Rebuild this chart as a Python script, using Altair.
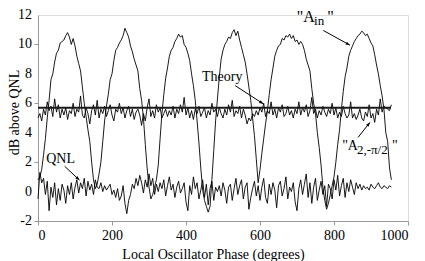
import math
import altair as alt
import pandas as pd

# ---------------- data ----------------
STEP = 5  # degrees between samples

a_in = [
    0.8, 1.0, 1.5, 2.5, 3.6, 5.0, 6.2, 7.6, 8.0, 8.8, 9.4, 9.6, 10.1, 10.2, 10.3, 10.6, 10.8, 10.5, 10.0, 10.4,
    9.9, 9.2, 8.7, 8.2, 7.1, 6.0, 5.1, 4.2, 3.4, 2.0, 0.8, 0.2, 0.5, 1.2, 2.0, 3.4, 4.8, 5.8, 6.6, 7.6,
    8.0, 8.9, 9.6, 9.8, 10.1, 10.3, 10.6, 11.1, 10.8, 10.5, 9.9, 9.5, 9.0, 8.6, 8.2, 7.0, 6.2, 5.0, 3.2, 1.6,
    0.3, -0.5, -0.2, 0.3, 0.8, 1.8, 3.6, 5.3, 6.6, 7.7, 8.4, 9.2, 9.6, 9.8, 10.2, 10.4, 10.7, 10.5, 10.6, 10.0,
    9.8, 9.4, 8.9, 8.0, 7.2, 6.2, 4.8, 3.3, 1.6, 0.1, -0.6, -1.0, -1.4, -1.0, 0.8, 2.8, 4.8, 6.3, 7.8, 9.0,
    9.6, 10.0, 10.2, 10.5, 10.4, 10.8, 11.0, 10.6, 10.9, 10.3, 9.8, 9.3, 8.8, 8.0, 7.1, 6.2, 5.0, 3.8, 2.2, 0.6,
    1.5, 2.6, 3.6, 4.6, 5.5, 6.6, 7.6, 8.4, 9.2, 9.6, 9.9, 10.0, 10.4, 10.3, 10.6, 10.5, 10.7, 10.4, 10.6, 10.2,
    10.3, 10.0, 10.2, 10.0, 9.6, 9.0, 8.6, 8.2, 7.0, 6.0, 5.3, 4.0, 3.0, 1.8, 0.3, -0.6, -1.2, -0.8, -0.2, 0.4,
    1.0, 2.0, 3.2, 4.2, 5.6, 6.8, 7.8, 8.4, 9.2, 9.6, 9.9, 10.2, 10.4, 10.6, 10.7, 10.9, 10.8, 10.6, 10.7, 10.4,
    10.1, 9.9, 9.3, 8.6, 8.0, 7.2, 6.5, 5.6, 4.0, 3.4, 1.6, 0.8,
]

a2 = [
    5.0, 5.3, 4.8, 5.6, 5.2, 6.1, 5.5, 5.8, 5.1, 6.3, 5.4, 5.9, 5.0, 5.6, 5.2, 5.7, 4.9, 5.5, 5.3, 6.0,
    5.1, 5.6, 5.4, 6.5, 5.2, 5.0, 5.7, 5.3, 4.6, 5.5, 5.9, 5.2, 6.2, 5.0, 5.6, 5.3, 5.8, 5.1, 5.5, 5.9,
    5.2, 4.8, 5.6, 5.4, 6.0, 5.3, 5.7, 5.0, 5.5, 5.8, 5.1, 5.6, 4.9, 5.4, 5.6, 5.2, 4.5, 5.3, 4.8, 5.7,
    6.3, 5.1, 5.5, 5.0, 5.9, 5.4, 5.7, 5.0, 5.3, 5.6, 5.1, 5.5, 5.2, 5.8, 5.0, 5.6, 5.3, 5.9, 5.4, 6.4,
    5.2, 5.7, 5.0, 5.5, 4.9, 5.6, 5.3, 5.8, 5.1, 5.4, 5.7, 5.0, 5.5, 5.2, 6.0, 5.4, 5.6, 5.1, 5.7, 5.3,
    5.0, 5.6, 5.2, 5.9, 5.4, 6.2, 5.1, 5.5, 5.3, 5.8, 5.0, 5.6, 5.2, 4.6, 5.0, 4.8, 5.3, 5.1, 5.5, 5.2,
    5.7, 5.4, 6.0, 5.1, 5.5, 5.3, 6.1, 5.2, 5.6, 5.0, 5.7, 5.4, 5.9, 5.1, 5.3, 5.8, 5.2, 5.5, 5.0, 5.6,
    5.3, 6.1, 5.2, 5.7, 5.4, 5.9, 5.1, 5.5, 6.4, 5.3, 5.6, 5.0, 5.5, 5.2, 5.8, 5.4, 5.1, 5.6, 5.3, 6.0,
    5.2, 5.7, 5.0, 5.4, 5.1, 5.8, 5.3, 5.0, 5.2, 6.1, 5.0, 5.3, 4.9, 5.2, 5.6, 5.0, 4.8, 5.4, 5.1, 5.9,
    5.0, 5.3, 4.7, 5.6, 5.2, 6.3, 5.4, 5.8, 5.7, 5.6, 5.5, 5.9,
]

qnl = [
    -0.5, 1.3, 0.6, 0.9, -0.2, 0.7, -1.3, 0.3, -0.4, 0.6, -0.9, 0.2, -0.6, 0.5, 0.1, -0.8, 0.4, -0.2, 0.6, -0.5,
    0.3, 0.8, -0.1, 0.6, 0.2, 0.9, -0.3, 0.7, 0.1, 0.5, -0.2, 0.8, 0.3, 0.2, 0.6, 0.0, 0.4, 0.1, 0.3, 0.5,
    -0.2, 0.1, -0.4, 0.2, -0.6, -0.3, 0.4, -0.8, -1.5, -0.6, -0.2, 0.5, 0.2, 0.9, 0.4, 1.1, 0.6, -0.1, 0.8, 0.3,
    1.2, 0.4, 0.9, -0.2, 0.5, 0.0, 0.6, 0.2, 0.8, -0.3, 0.4, 1.0, 0.1, 0.5, -0.4, 0.3, 0.7, -0.1, 0.2, 0.6,
    -0.7, -1.3, 0.4, -0.2, 1.0, 0.2, 0.6, -0.5, 0.1, 0.8, -0.4, 0.5, -0.9, 0.2, 0.7, -0.6, 0.3, 0.0, 0.4, -0.3,
    0.6, 0.1, -0.8, 0.3, 0.5, -0.6, 0.2, 0.9, -0.2, 0.4, 0.8, -0.5, 0.3, 0.6, -1.2, -0.4, 0.2, 0.7, -0.3, 0.4,
    -0.6, 0.3, 0.9, -0.4, -0.8, 0.5, -0.2, 0.6, 0.1, -1.1, 0.4, 0.7, -0.3, 0.2, 1.0, -0.5, 0.3, 0.0, 0.6, -0.7,
    -1.3, 0.2, 0.8, -0.2, 0.5, 1.2, -0.4, 0.6, -0.8, 0.3, 0.9, -0.6, 0.1, 0.7, -0.2, 0.4, -1.0, 0.5, 0.2, -0.5,
    0.8, 0.1, 1.1, -0.3, 0.4, 0.9, -0.4, 0.6, 0.0, 0.8, 0.3, -0.2, 0.6, 0.2, 0.5, 0.1, 0.4, 0.2, 0.3, 0.1,
    0.5, 0.3, 0.2, 0.4, 0.6, 0.3, 0.2, 0.4, 0.3, 0.2, 0.4, 0.3,
]

theory_value = 5.7
theory_start, theory_end = 0, 953

x_ticks = [0, 200, 400, 600, 800, 1000]
y_ticks = [-2, 0, 2, 4, 6, 8, 10, 12]

# annotation arrows: (x1, y1) -> (x2, y2) in data units
arrow_x1 = [771, 533, 72, 865]
arrow_y1 = [10.95, 7.2, 1.72, 3.68]
arrow_x2 = [843, 609, 112, 897]
arrow_y2 = [9.95, 5.96, 0.78, 4.70]

# centered labels
clabel_text = ["Theory", "QNL"]
clabel_x = [498, 61]
clabel_y = [7.49, 1.95]

# pieces of labels with subscripts (left aligned)
piece_text = ['"A', "in", '"', '"A', "2,-\u03c0/2", '"']
piece_x = [699, 746, 782, 822, 862, 957]
piece_y = [11.5, 11.33, 11.5, 2.8, 2.57, 2.8]
piece_size = [16, 13, 16, 14, 13, 14]

# ---------------- layout ----------------
W, H = 370, 206
XDOM = [0, 1000]
YDOM = [-2, 12]
FONT = "Liberation Serif"

rows = []
for name, vals in (("A_in", a_in), ("A2", a2), ("QNL", qnl)):
    for i, v in enumerate(vals):
        rows.append({"series": name, "phase": i * STEP, "value": v})
lines_df = pd.DataFrame(rows)

xs = alt.Scale(domain=XDOM, nice=False, zero=False)
ys = alt.Scale(domain=YDOM, nice=False, zero=False)

xaxis = alt.Axis(values=x_ticks, format="d", labelOverlap=False, title="Local Oscillator Phase (degrees)",
                 grid=False,
                 labelFont=FONT, labelFontSize=14, labelColor="black", labelPadding=3,
                 titleFont=FONT, titleFontSize=14, titleFontWeight="normal", titleColor="black",
                 titlePadding=5, titleX=175,
                 domainColor="#999999", tickColor="#999999", tickSize=4)
yaxis = alt.Axis(values=y_ticks, labels=False, title="dB above QNL", grid=False,
                 titleFont=FONT, titleFontSize=14, titleFontWeight="normal", titleColor="black",
                 titleX=-24, titleY=97, titleBaseline="middle", titleAlign="center", titleAngle=270,
                 domainColor="#999999", tickColor="#999999", tickSize=4)

lines = alt.Chart(lines_df).mark_line(color="black", strokeWidth=0.9).encode(
    x=alt.X("phase:Q", scale=xs, axis=xaxis),
    y=alt.Y("value:Q", scale=ys, axis=yaxis),
    detail="series:N",
)

ylab_df = pd.DataFrame({"v": y_ticks, "t": [str(v) for v in y_ticks]})
ylabels = alt.Chart(ylab_df).mark_text(font=FONT, fontSize=14, color="black",
                                       align="right", baseline="middle", dx=-6).encode(
    x=alt.value(0), y=alt.Y("v:Q", scale=ys), text="t:N"
)

theory_df = pd.DataFrame({"x": [theory_start], "x2": [theory_end], "y": [theory_value]})
theory = alt.Chart(theory_df).mark_rule(color="#1a1a1a", strokeWidth=2).encode(
    x=alt.X("x:Q", scale=xs), x2="x2:Q", y=alt.Y("y:Q", scale=ys)
)

arr_df = pd.DataFrame({"x": arrow_x1, "y": arrow_y1, "x2": arrow_x2, "y2": arrow_y2})
pxd = W / (XDOM[1] - XDOM[0])
pyd = H / (YDOM[1] - YDOM[0])
arr_df["angle"] = [
    (math.degrees(math.atan2((b - a) * pxd, (d - c) * pyd)) + 360) % 360
    for a, b, c, d in zip(arrow_x1, arrow_x2, arrow_y1, arrow_y2)
]
arrow_lines = alt.Chart(arr_df).mark_rule(color="black", strokeWidth=1).encode(
    x=alt.X("x:Q", scale=xs), y=alt.Y("y:Q", scale=ys), x2="x2:Q", y2="y2:Q"
)
arrow_heads = alt.Chart(arr_df).mark_point(
    shape="M0,0L-0.38,1L0.38,1Z", filled=True, color="black", opacity=1, size=70, strokeWidth=0
).encode(
    x=alt.X("x2:Q", scale=xs), y=alt.Y("y2:Q", scale=ys),
    angle=alt.Angle("angle:Q", scale=None),
)

clab_df = pd.DataFrame({"t": clabel_text, "x": clabel_x, "y": clabel_y})
clabels = alt.Chart(clab_df).mark_text(font=FONT, fontSize=14, color="black",
                                       align="center", baseline="alphabetic").encode(
    x=alt.X("x:Q", scale=xs), y=alt.Y("y:Q", scale=ys), text="t:N"
)

piece_df = pd.DataFrame({"t": piece_text, "x": piece_x, "y": piece_y, "s": piece_size})
pieces = alt.Chart(piece_df).mark_text(font=FONT, color="black",
                                       align="left", baseline="alphabetic").encode(
    x=alt.X("x:Q", scale=xs), y=alt.Y("y:Q", scale=ys), text="t:N",
    size=alt.Size("s:Q", scale=None, legend=None),
)

chart = alt.layer(lines, ylabels, theory, arrow_lines, arrow_heads, clabels, pieces).properties(
    width=W, height=H,
    autosize=alt.AutoSizeParams(type="none"),
    padding={"left": 30, "top": 7, "right": 9, "bottom": 40},
).configure_view(stroke=None).configure(background="white")

chart.save("out.html", embed_options={"renderer": "svg", "actions": False})
